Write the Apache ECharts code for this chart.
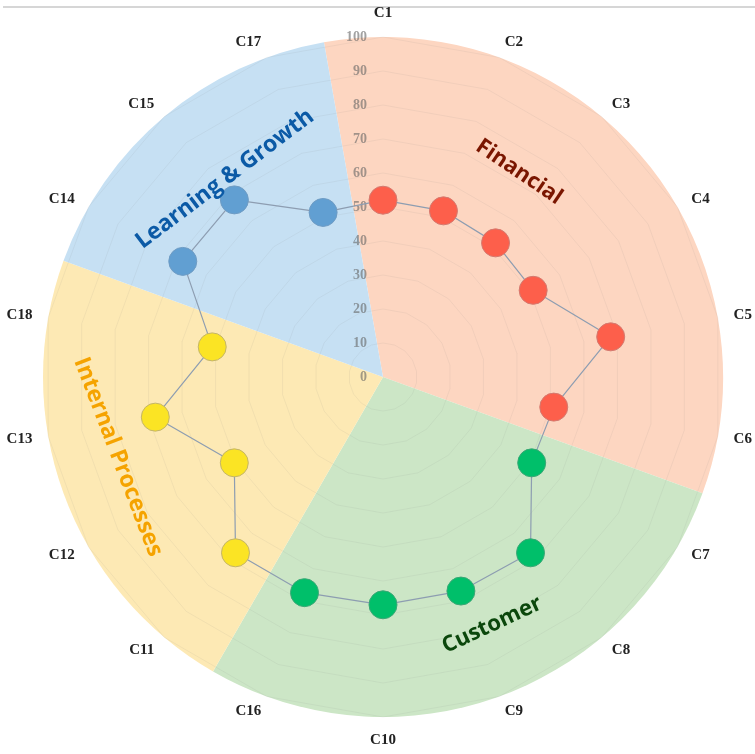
<!DOCTYPE html>
<html>
<head>
<meta charset="utf-8">
<script src="https://cdn.jsdelivr.net/npm/echarts@6/dist/echarts.min.js"></script>
<style>
  html, body { margin: 0; padding: 0; background: #fff; }
  #chart { width: 755px; height: 754px; }
</style>
</head>
<body>
<div id="chart"></div>
<script>
// criteria in clockwise order from the top
const criteria = ['C1', 'C2', 'C3', 'C4', 'C5', 'C6', 'C7', 'C8', 'C9', 'C10',
  'C16', 'C11', 'C12', 'C13', 'C18', 'C14', 'C15', 'C17'];
const scores = [52, 52, 51.5, 51, 68, 51, 50.5, 67.5, 67, 67,
  67.5, 67.5, 50.5, 68, 51, 68, 68, 51.5];

const groups = ['Financial', 'Customer', 'Internal Processes', 'Learning & Growth'];
const groupSizes = [6, 5, 4, 3];

const sectorColors = ['#fdd6c1', '#cce6c6', '#fde9b4', '#c6e0f3'];
const dotColors = ['#fd5f4b', '#00bf6a', '#fbe424', '#619fd2'];
const dotBorders = ['#d47a70', '#3aa775', '#c4b56a', '#6f9cc4'];
const labelColors = ['#7a1600', '#0b470c', '#f5a300', '#0b5aa6'];

const CX = 383, CY = 377, R = 340;

const chart = echarts.init(document.getElementById('chart'));

// radar runs counter-clockwise, so keep C1 first and reverse the rest
const ccw = arr => [arr[0], ...arr.slice(1).reverse()];

let start = 0;
const dotSeries = groups.map((g, i) => {
  const names = criteria.slice(start, start + groupSizes[i]);
  const vals = scores.slice(start, start + groupSizes[i]);
  start += groupSizes[i];
  return {
    name: g,
    type: 'scatter',
    coordinateSystem: 'polar',
    symbolSize: 28,
    z: 4,
    itemStyle: { color: dotColors[i], borderColor: dotBorders[i], borderWidth: 1, opacity: 1 },
    data: names.map((n, k) => [vals[k], n])
  };
});

// text placed along each sector, [x, y, rotation deg clockwise]
const labelPos = [[519, 172, 34], [492, 625, -25], [118, 457, 69], [225, 179, -37]];

chart.setOption({
  animation: false,
  radar: {
    center: [CX, CY],
    radius: R,
    startAngle: 90,
    splitNumber: 10,
    z: 1,
    shape: 'polygon',
    nameGap: 16,
    axisName: {
      color: '#222',
      fontFamily: 'Liberation Serif',
      fontWeight: 'bold',
      fontSize: 15
    },
    indicator: ccw(criteria).map(n => {
      const ind = { name: n, min: 0, max: 100 };
      if (n === 'C1') {
        ind.axisLabel = {
          show: true,
          margin: 16,
          color: 'rgba(100,100,100,0.6)',
          fontFamily: 'Liberation Serif',
          fontWeight: 'bold',
          fontSize: 14
        };
      }
      return ind;
    }),
    axisLine: { show: false },
    axisTick: { show: false },
    axisLabel: { show: false },
    splitArea: { show: false },
    splitLine: { lineStyle: { color: 'rgba(120,120,120,0.09)', width: 1 } }
  },
  polar: { center: [CX, CY], radius: R },
  angleAxis: {
    type: 'category',
    data: criteria,
    startAngle: 90,
    boundaryGap: false,
    show: false
  },
  radiusAxis: { min: 0, max: 100, show: false },
  graphic: [
    {
      type: 'line',
      shape: { x1: 3, y1: 7, x2: 755, y2: 7 },
      style: { stroke: '#d6d6d6', lineWidth: 2 }
    },
    ...groups.map((g, i) => ({
      type: 'text',
      x: labelPos[i][0],
      y: labelPos[i][1],
      rotation: -labelPos[i][2] * Math.PI / 180,
      z: 10,
      style: {
        text: g,
        fill: labelColors[i],
        font: (i === 0 || i === 1 ? 'bold 22px' : 'bold 23px') + ' "Open Sans"',
        textAlign: 'center',
        textVerticalAlign: 'middle'
      }
    }))
  ],
  series: [
    {
      type: 'pie',
      center: [CX, CY],
      radius: [0, R],
      startAngle: 100,
      clockwise: true,
      silent: true,
      z: 0,
      label: { show: false },
      labelLine: { show: false },
      data: groups.map((g, i) => ({
        name: g, value: groupSizes[i], itemStyle: { color: sectorColors[i] }
      }))
    },
    {
      type: 'radar',
      z: 3,
      symbol: 'none',
      lineStyle: { color: '#8d9db1', width: 1.2 },
      data: [{ value: ccw(scores) }]
    },
    ...dotSeries
  ]
});
</script>
</body>
</html>
